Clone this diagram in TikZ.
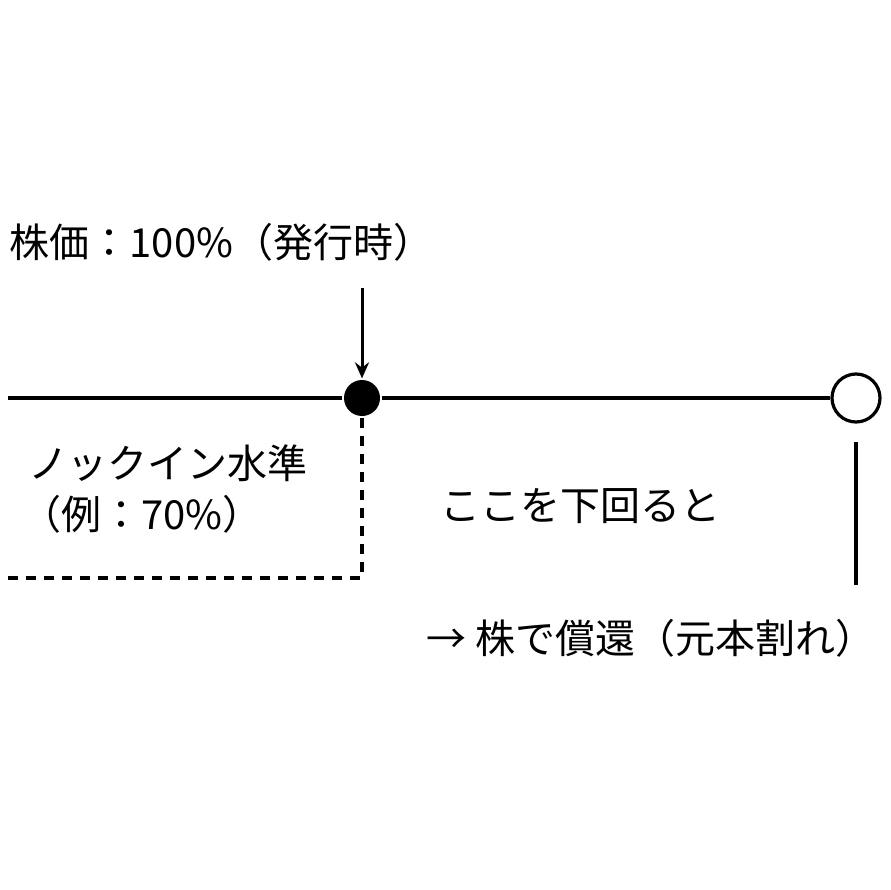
\documentclass[tikz,border=0pt]{standalone}
\usepackage{fontspec}
\usetikzlibrary{arrows.meta}
\setmainfont{Noto Sans CJK JP}
\begin{document}
\begin{tikzpicture}[x=1pt,y=-1pt,line width=3.2pt,
  lbl/.style={inner sep=0pt,font=\fontsize{40}{48}\selectfont}]
\useasboundingbox (0,0) rectangle (890,890);
\node[lbl,anchor=west] (t1) at (8,242) {株価：100\%（発行時）};
\coordinate (a0) at (362,288);
\node[circle,fill=black,minimum size=36pt,inner sep=0pt] (k) at (362,398) {};
\node[circle,draw,fill=white,minimum size=48pt,inner sep=0pt] (e) at (856,398) {};
\coordinate (l0) at (8,398);
\draw (l0) -- (k) -- (e);
\draw[-{Stealth[length=16pt,width=14pt]},line width=3pt] (a0) -- (k.north);
\coordinate (d1) at (362,578);
\coordinate (d2) at (8,578);
\draw[dashed,dash pattern=on 10pt off 8pt] (k.south) -- (d1) -- (d2);
\node[lbl] (n1) at (168,463) {ノックイン水準};
\node[lbl] (n2) at (142,514) {（例：70\%）};
\node[lbl] (n3) at (580,506) {ここを下回ると};
\coordinate (v0) at (856,442);
\coordinate (v1) at (856,585);
\draw (v0) -- (v1);
\node[lbl] (n4) at (651,638) {→ 株で償還（元本割れ）};
\end{tikzpicture}
\end{document}
